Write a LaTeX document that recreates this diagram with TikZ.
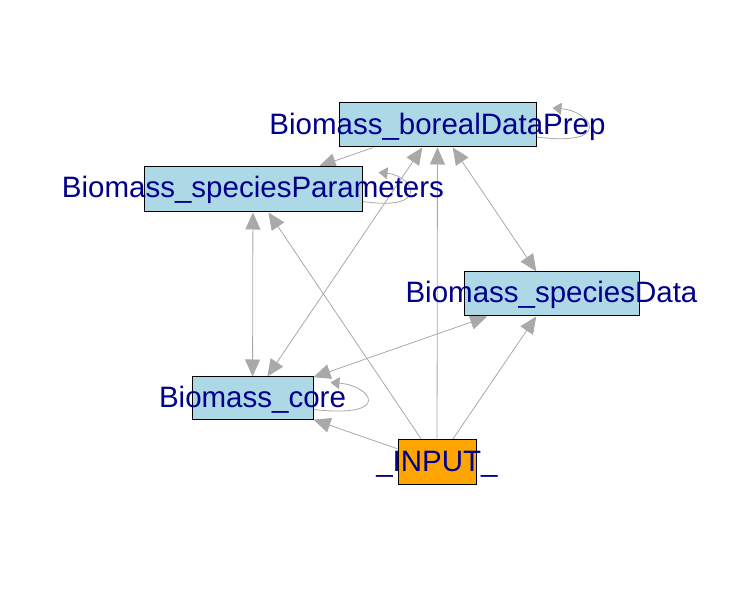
\documentclass[tikz,border=0pt]{standalone}
\usepackage{fontspec}
\setmainfont{Liberation Sans}
\usetikzlibrary{arrows.meta,calc,backgrounds}
\definecolor{vfill}{HTML}{ADD8E6}
\definecolor{ifill}{HTML}{FFA500}
\definecolor{lblue}{HTML}{00008B}
\definecolor{egray}{HTML}{A9A9A9}
\tikzset{
  vbox/.style={draw=black, line width=1pt, fill=vfill, inner sep=0pt, minimum width=#1},
  vbox/.default=100pt,
  lbl/.style={text=lblue, font=\fontsize{29.5}{29.5}\selectfont, anchor=base, inner sep=0pt},
  edg/.style={draw=egray, line width=0.8pt, -{Triangle[length=17pt,width=15pt]}},
  bedg/.style={draw=egray, line width=0.8pt, {Triangle[length=17pt,width=15pt]}-{Triangle[length=17pt,width=15pt]}},
  ledg/.style={draw=egray, line width=0.8pt, -{Triangle[length=9pt,width=12pt]}}
}
\begin{document}
\begin{tikzpicture}[x=1pt,y=-1pt]
\useasboundingbox (0,0) rectangle (732,609);
% vertices
\node[vbox=197pt, minimum height=44pt] (bp) at (437.5,125) {};
\node[vbox=218pt, minimum height=45pt] (sp) at (253,189.5) {};
\node[vbox=175pt, minimum height=44pt] (sd) at (551.5,294) {};
\node[vbox=121pt, minimum height=43pt] (core) at (252.5,398.5) {};
\node[vbox=78pt, minimum height=45pt, fill=ifill] (inp) at (437,462.5) {};
% labels
\node[lbl] (lbp) at (437.5,134.3) {Biomass\_borealDataPrep};
\node[lbl] (lsp) at (253,198) {Biomass\_speciesParameters};
\node[lbl] (lsd) at (551.5,303) {Biomass\_speciesData};
\node[lbl] (lcore) at (252.5,407.5) {Biomass\_core};
\node[lbl] (linp) at (437,472) {\_INPUT\_};
% edges
\begin{scope}[on background layer]
\fill[white] (0,0) rectangle (732,609);
\draw[edg] (bp) -- (sp);
\draw[bedg] (sp) -- (core);
\draw[bedg] (core) -- (bp);
\draw[edg] (inp) -- (sp);
\draw[edg] (inp) -- (bp);
\draw[bedg] (bp) -- (sd);
\draw[bedg] (core) -- (sd);
\draw[edg] (inp) -- (sd);
\draw[edg] (inp) -- (core);
\draw[ledg] ($(bp.east)+(0,12)$) .. controls ($(bp.east)+(78,22)$) and ($(bp.east)+(55,-14)$) .. ($(bp.east)+(16,-17)$);
\draw[ledg] ($(sp.east)+(0,12)$) .. controls ($(sp.east)+(70,22)$) and ($(sp.east)+(50,-14)$) .. ($(sp.east)+(16,-17)$);
\draw[ledg] ($(core.east)+(0,11)$) .. controls ($(core.east)+(80,20)$) and ($(core.east)+(58,-13)$) .. ($(core.east)+(17,-16)$);
\end{scope}
\end{tikzpicture}
\end{document}
